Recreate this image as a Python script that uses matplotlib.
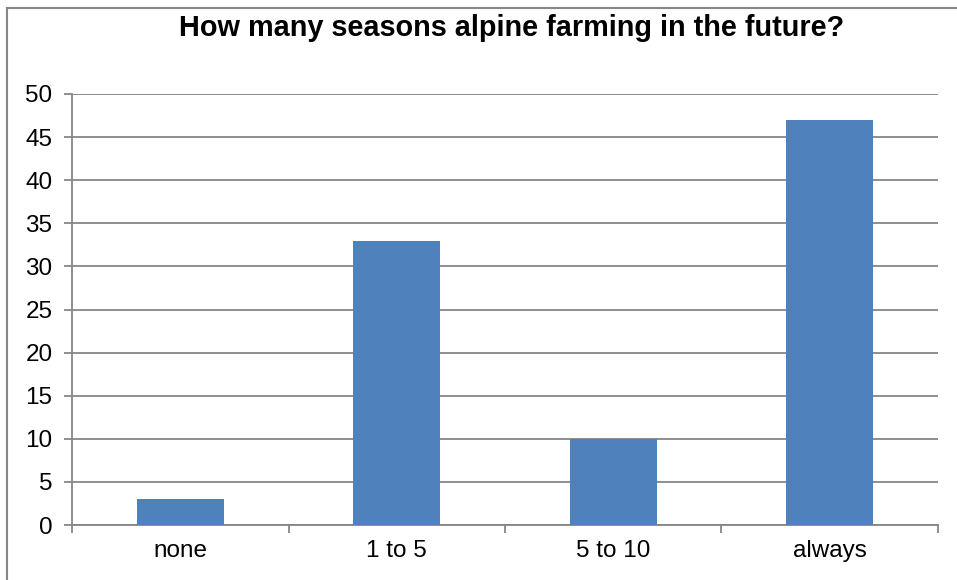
import matplotlib.pyplot as plt
from matplotlib.lines import Line2D

# Survey answers
categories = ['none', '1 to 5', '5 to 10', 'always']
counts = [3, 33, 10, 47]
y_ticks = [0, 5, 10, 15, 20, 25, 30, 35, 40, 45, 50]

plt.rcParams['font.family'] = ['Liberation Sans', 'DejaVu Sans']

fig = plt.figure(figsize=(9.57, 5.8), dpi=100)
ax = fig.add_axes([72 / 957, 55 / 580, 866 / 957, 431 / 580])

grey = '#868686'
x = range(len(categories))
ax.bar(x, counts, width=0.4, color='#4f81bd', zorder=3)

ax.set_xlim(-0.5, len(categories) - 0.5)
ax.set_ylim(0, 50)
ax.set_yticks(y_ticks)
ax.set_xticks(list(x))
ax.set_xticklabels(categories)
ax.set_xticks([i - 0.5 for i in range(len(categories) + 1)], minor=True)

ax.grid(axis='y', color=grey, linewidth=1.3, zorder=0)
for side in ['top', 'right']:
    ax.spines[side].set_visible(False)
for side in ['left', 'bottom']:
    ax.spines[side].set_color(grey)
    ax.spines[side].set_linewidth(1.3)

ax.tick_params(axis='y', length=6, width=1.3, color=grey, labelsize=17.5, pad=8)
ax.tick_params(axis='x', which='major', length=0, labelsize=17.5, pad=11)
ax.tick_params(axis='x', which='minor', length=6, width=1.3, color=grey)

fig.text(512 / 957, 1 - 28 / 580,
         'How many seasons alpine farming in the future?',
         fontsize=20.8, fontweight='bold', ha='center', va='center')

# outer chart border (left and top edges visible)
fig.add_artist(Line2D([7.5 / 957, 7.5 / 957], [0, 1 - 7.5 / 580], color=grey, linewidth=1.5))
fig.add_artist(Line2D([7.5 / 957, 1], [1 - 7.5 / 580, 1 - 7.5 / 580], color=grey, linewidth=1.5))

plt.savefig('out.png', dpi=100)
